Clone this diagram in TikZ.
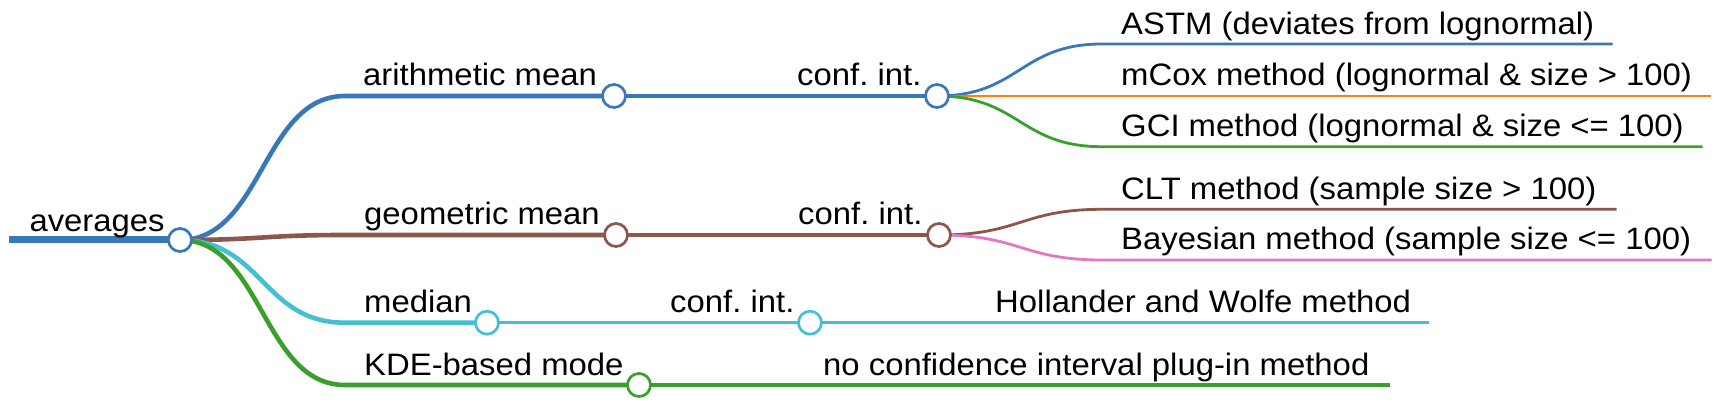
\documentclass[tikz,border=0pt]{standalone}
\usepackage{fontspec}
\setmainfont[FakeStretch=1.06]{Liberation Sans}
\frenchspacing
\definecolor{mblue}{HTML}{3878B8}
\definecolor{morange}{HTML}{FF7F0E}
\definecolor{mgreen}{HTML}{3A9F2C}
\definecolor{mbrown}{HTML}{8C564B}
\definecolor{mpink}{HTML}{E377C2}
\definecolor{mcyan}{HTML}{45BFD2}
\begin{document}
\begin{tikzpicture}[x=1pt,y=-1pt,
  lbl/.style={anchor=base west,inner sep=0pt,font=\fontsize{31}{36}\selectfont\frenchspacing},
  dot/.style={circle,draw=#1,fill=white,line width=2.7pt,minimum size=23pt,inner sep=0pt},
  lvA/.style={line width=4.6pt},
  lvB/.style={line width=3.3pt},
  lvC/.style={line width=2.8pt}]
\fill[white] (0,0) rectangle (1721,411);
\useasboundingbox (0,0) rectangle (1721,411);
% coordinates
\coordinate (r0) at (9,240);
\coordinate (p0) at (180,240);
\coordinate (s1) at (345,96);
\coordinate (a1) at (614,96);
\coordinate (s2) at (345,235);
\coordinate (a2) at (616,235);
\coordinate (s3) at (345,322.7);
\coordinate (a3) at (487,322.7);
\coordinate (s4) at (345,385);
\coordinate (a4) at (639,385);
\coordinate (t1) at (768,96);
\coordinate (b1) at (937,96);
\coordinate (t2) at (768,235);
\coordinate (b2) at (939,235);
\coordinate (t3) at (643,322.7);
\coordinate (b3) at (810,322.7);
\coordinate (t4) at (802,385);
\coordinate (e4) at (1390,385);
\coordinate (u1) at (1102,44);
\coordinate (e1) at (1612.7,44);
\coordinate (u2) at (1102,96);
\coordinate (e2) at (1711,96);
\coordinate (u3) at (1102,146.7);
\coordinate (e3) at (1702.7,146.7);
\coordinate (u4) at (1102.7,209.3);
\coordinate (e5) at (1616.7,209.3);
\coordinate (u5) at (1102.7,260);
\coordinate (e6) at (1711.7,260);
\coordinate (u6) at (975,322.7);
\coordinate (e7) at (1429,322.7);
% root
\draw[mblue,line width=7pt] (r0) -- (p0);
% level 1 links
\draw[mblue,lvA] (p0) .. controls (262.5,240) and (262.5,96) .. (s1) -- (a1);
\draw[mbrown,lvA] (p0) .. controls (262.5,240) and (262.5,235) .. (s2) -- (a2);
\draw[mcyan,lvA] (p0) .. controls (262.5,240) and (262.5,322.7) .. (s3) -- (a3);
\draw[mgreen,lvA] (p0) .. controls (262.5,240) and (262.5,385) .. (s4) -- (a4);
% level 2 links
\draw[mblue,lvB] (a1) -- (t1) -- (b1);
\draw[mbrown,lvB] (a2) -- (t2) -- (b2);
\draw[mcyan,lvB] (a3) -- (t3) -- (b3);
\draw[mgreen,lvB] (a4) -- (t4) -- (e4);
% level 3 links
\draw[mblue,lvC] (b1) .. controls (1019.5,96) and (1019.5,44) .. (u1) -- (e1);
\draw[morange,lvC] (b1) -- (u2) -- (e2);
\draw[mgreen,lvC] (b1) .. controls (1019.5,96) and (1019.5,146.7) .. (u3) -- (e3);
\draw[mbrown,lvC] (b2) .. controls (1021,235) and (1021,209.3) .. (u4) -- (e5);
\draw[mpink,lvC] (b2) .. controls (1021,235) and (1021,260) .. (u5) -- (e6);
\draw[mcyan,lvC] (b3) -- (u6) -- (e7);
% circles
\node[dot=mblue] (c0) at (p0) {};
\node[dot=mblue] (c1) at (a1) {};
\node[dot=mbrown] (c2) at (a2) {};
\node[dot=mcyan] (c3) at (a3) {};
\node[dot=mgreen] (c4) at (a4) {};
\node[dot=mblue] (c5) at (b1) {};
\node[dot=mbrown] (c6) at (b2) {};
\node[dot=mcyan] (c7) at (b3) {};
% labels
\node[lbl] (l0) at (29.3,231.7) {averages};
\node[lbl] (l1) at (363,86) {arithmetic mean};
\node[lbl] (l2) at (364,225) {geometric mean};
\node[lbl] (l3) at (364,312.7) {median};
\node[lbl] (l4) at (364,375) {KDE-based mode};
\node[lbl] (l5) at (797,86) {conf. int.};
\node[lbl] (l6) at (798,225) {conf. int.};
\node[lbl] (l7) at (670,312.7) {conf. int.};
\node[lbl] (l8) at (823,375) {no confidence interval plug-in method};
\node[lbl] (l9) at (1121,34.3) {ASTM (deviates from lognormal)};
\node[lbl] (l10) at (1121,86) {mCox method (lognormal \& size > 100)};
\node[lbl] (l11) at (1121,136.7) {GCI method (lognormal \& size <= 100)};
\node[lbl] (l12) at (1121,199.3) {CLT method (sample size > 100)};
\node[lbl] (l13) at (1121,250) {Bayesian method (sample size <= 100)};
\node[lbl] (l14) at (995,312.7) {Hollander and Wolfe method};
\end{tikzpicture}
\end{document}
